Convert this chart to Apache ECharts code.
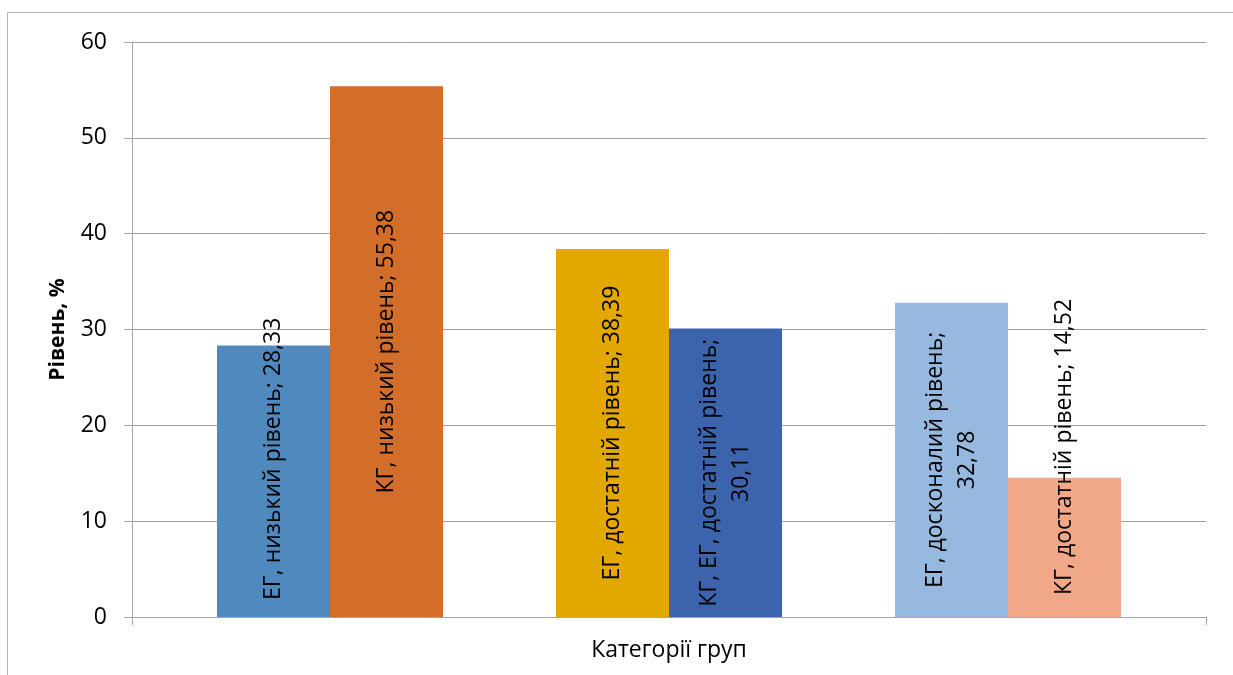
<!DOCTYPE html>
<html><head><meta charset="utf-8">
<script src="https://cdn.jsdelivr.net/npm/echarts@6/dist/echarts.min.js"></script>
<style>html,body{margin:0;padding:0;background:#fff}#c{width:1233px;height:675px}</style>
</head><body><div id="c"></div>
<script>
// group positions (1..3), two bars per group
var groups = [1, 2, 3];
var egValues = [28.33, 38.39, 32.78];
var kgValues = [55.38, 30.11, 14.52];
var egNames = ['ЕГ, низький рівень', 'ЕГ, достатній рівень', 'ЕГ, досконалий рівень'];
var kgNames = ['КГ, низький рівень', 'КГ, ЕГ, достатній рівень', 'КГ, достатній рівень'];
var egBreak = [false, false, true];
var kgBreak = [false, true, false];
var egBottom = [true, false, false];
var kgBottom = [false, false, true];
var egColors = ['#4F89BD', '#E2A800', '#97B8DF'];
var kgColors = ['#D36D2A', '#3C64AD', '#F0A889'];
var yTicks = [0, 10, 20, 30, 40, 50, 60];

var FONT = 'Open Sans';
function fmt(v){ return String(v.toFixed(2)).replace('.', ','); }
function makeData(vals, names, brk, bottom, colors, dist){
  return vals.map(function(v, i){
    var text = names[i] + ';' + (brk[i] ? '\n' : ' ') + fmt(v);
    var lab = bottom[i]
      ? {position: 'insideBottom', distance: dist, align: 'left', verticalAlign: 'middle'}
      : {position: 'inside', align: 'center', verticalAlign: 'middle'};
    lab.formatter = text;
    return {value: [groups[i], v], itemStyle: {color: colors[i]}, label: lab};
  });
}
var xMin = 1 - 198/339, xMax = 3 + 198/339;
var labelStyle = {show: true, rotate: 90, fontFamily: FONT, fontSize: 23, color: '#000', lineHeight: 32};
var chart = echarts.init(document.getElementById('c'), null, {renderer: 'canvas'});
chart.setOption({
  animation: false,
  textStyle: {fontFamily: FONT},
  graphic: [{type: 'rect', shape: {x: 7.5, y: 12.5, width: 1400, height: 900},
    style: {fill: 'none', stroke: '#B3B3B3', lineWidth: 1}, silent: true}],
  grid: {left: 132, right: 27, top: 42, bottom: 58},
  xAxis: {
    type: 'value', min: xMin, max: xMax, interval: xMax - xMin,
    name: 'Категорії груп', nameLocation: 'middle', nameGap: 22,
    nameTextStyle: {fontFamily: FONT, fontSize: 23, color: '#000'},
    axisLine: {show: true, lineStyle: {color: '#A6A6A6', width: 1}},
    axisTick: {show: true, length: 8, lineStyle: {color: '#A6A6A6'}},
    axisLabel: {show: false},
    splitLine: {show: false}
  },
  yAxis: {
    type: 'value', min: yTicks[0], max: yTicks[yTicks.length - 1], interval: 10,
    name: 'Рівень, %', nameLocation: 'middle', nameGap: 63,
    nameTextStyle: {fontFamily: FONT, fontSize: 21, fontWeight: 'bold', color: '#000'},
    axisLine: {show: true, lineStyle: {color: '#A6A6A6', width: 1}},
    axisTick: {show: true, length: 8, lineStyle: {color: '#A6A6A6'}},
    axisLabel: {margin: 25, fontFamily: FONT, fontSize: 23, color: '#000'},
    splitLine: {show: true, lineStyle: {color: '#A0A0A0', width: 1}}
  },
  series: [
    {type: 'bar', barWidth: 113, barGap: '0%', label: labelStyle,
     data: makeData(egValues, egNames, egBreak, egBottom, egColors, 17)},
    {type: 'bar', barWidth: 113, barGap: '0%', label: labelStyle,
     data: makeData(kgValues, kgNames, kgBreak, kgBottom, kgColors, 22)}
  ]
});
</script></body></html>
